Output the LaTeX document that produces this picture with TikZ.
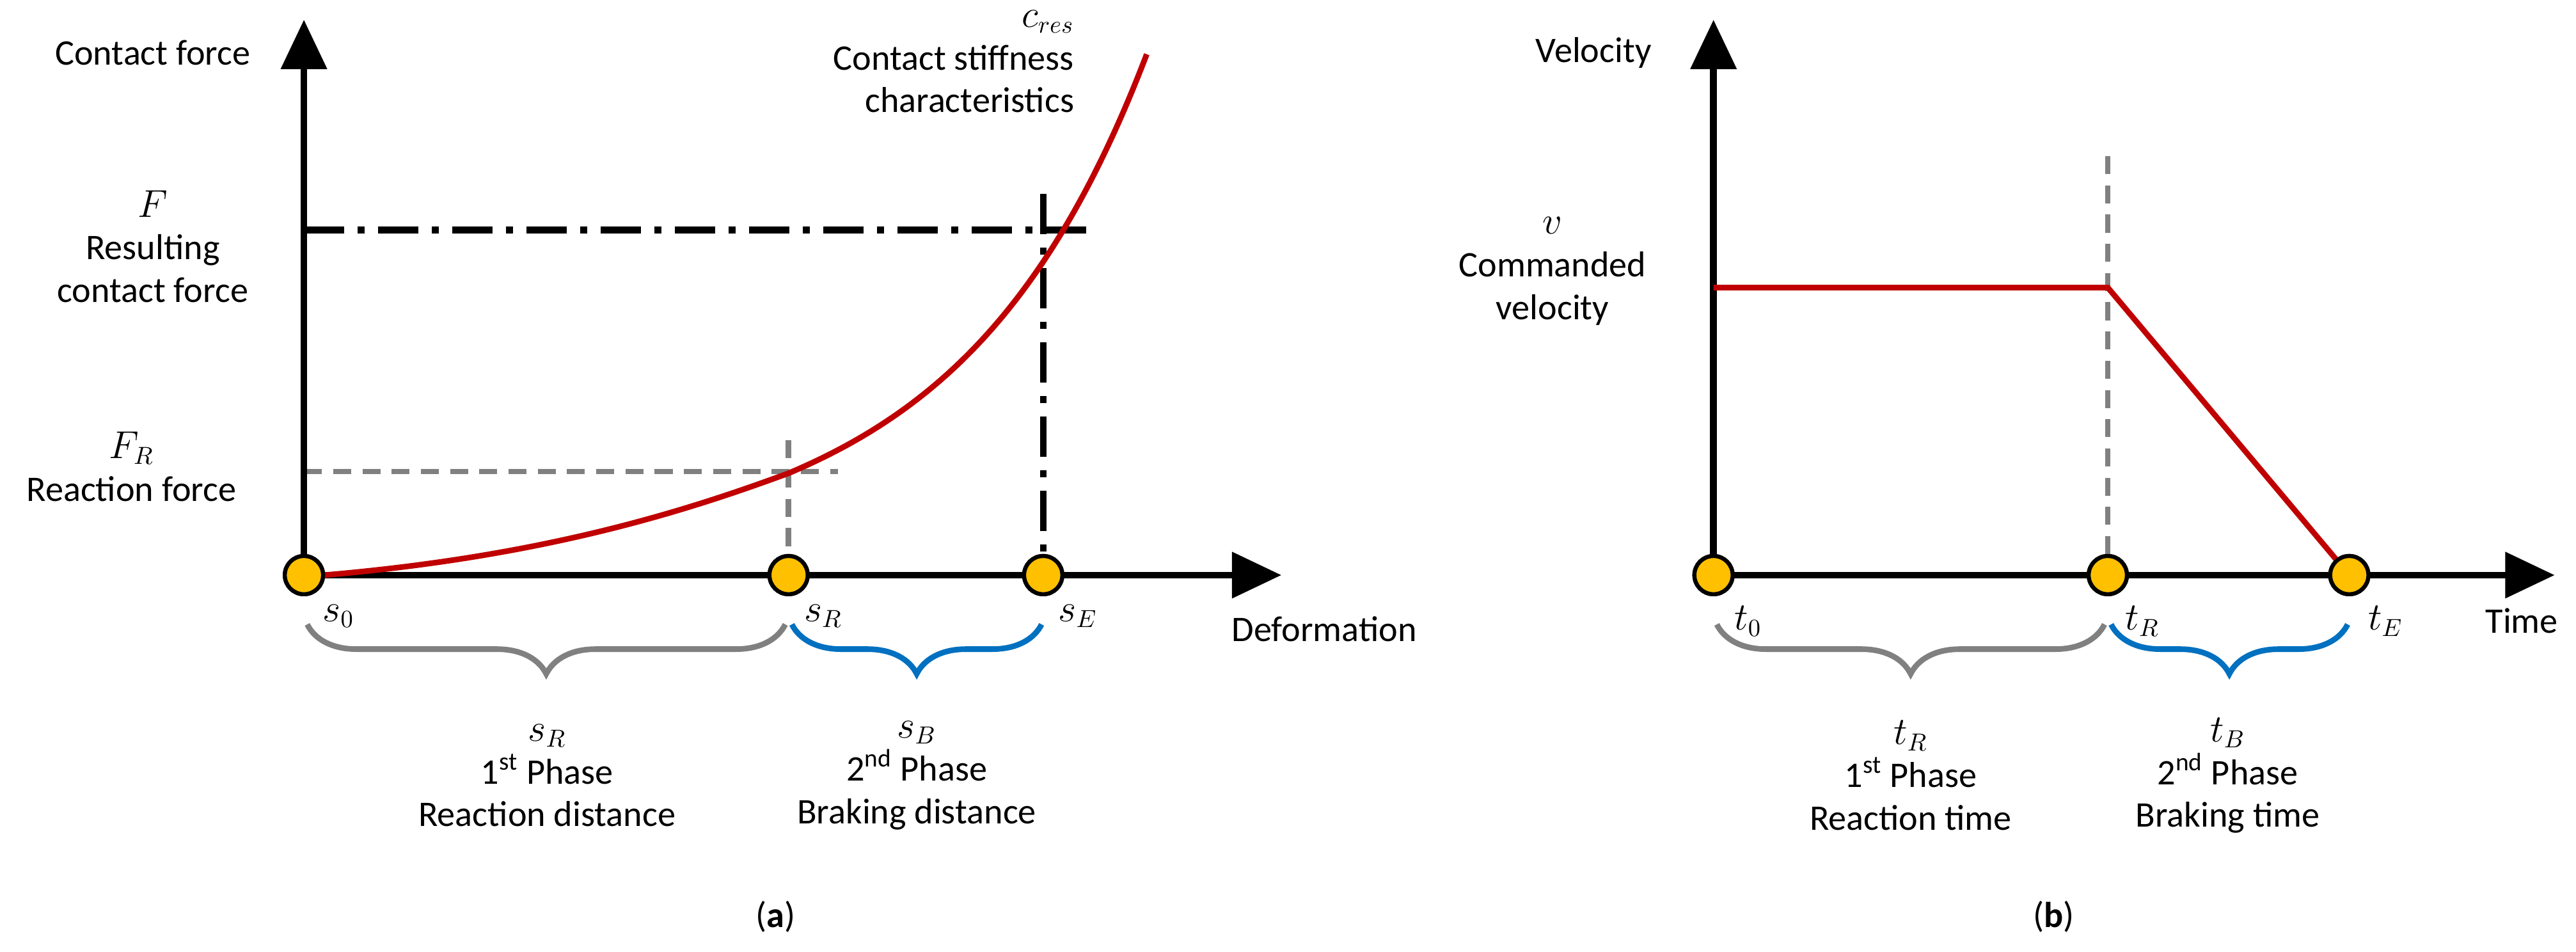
\documentclass[tikz,border=0pt]{standalone}
\usepackage{fontspec}
\setmainfont{Carlito}
\usetikzlibrary{arrows.meta, positioning, calc, decorations.pathreplacing}
\definecolor{dred}{HTML}{C00000}
\definecolor{dblue}{HTML}{0070C0}
\definecolor{dgray}{HTML}{808080}
\definecolor{dorange}{HTML}{FFC000}
\begin{document}
\begin{tikzpicture}[x=0.02568cm,y=-0.02568cm, font=\fontsize{16}{19}\selectfont,
	axis/.style={line width=3pt,-{Triangle[length=22pt,width=20pt]}},
	pt/.style={circle,draw=black,line width=1.8pt,fill=dorange,minimum size=17pt,inner sep=0pt},
	brace/.style={decorate,decoration={brace,mirror,amplitude=22pt,raise=0pt},line width=2.5pt},
	gdash/.style={dgray,line width=2.5pt,dash pattern=on 8pt off 5pt},
	kdash/.style={line width=3pt,dash pattern=on 18pt off 6pt on 3pt off 6pt},
	lbl/.style={align=center,inner sep=1pt}]
	\useasboundingbox (0,0) rectangle (1568,579);
	% (a) contact force over deformation
	\coordinate (Otop) at (185,12);
	\coordinate (Xend) at (780,350);
	\node[pt] (s0) at (185,350) {};
	\node[pt] (sR) at (480,350) {};
	\node[pt] (sE) at (635,350) {};
	\draw[gdash] (185,287) -- (510,287);
	\draw[gdash] (480,268) -- (sR);
	\draw[kdash] (185,140) -- (662,140);
	\draw[kdash] (635,118) -- (sE);
	\draw[axis] (s0.center) -- (Otop);
	\draw[axis] (s0.center) -- (Xend);
	\draw[dred,line width=2.5pt] (185,351) .. controls (330,340) and (420,310) .. (480,288)
		.. controls (570,250) and (640,185) .. (698,33);
	\node[pt] at (s0) {};
	\node[pt] at (sR) {};
	\node[pt] at (sE) {};
	\node[lbl] (fl) at (93,32) {Contact force};
	\node[lbl,align=right,anchor=north east,inner sep=0pt] (cres) at (654,6) {$c_{res}$\\Contact stiffness\\characteristics};
	\node[lbl] (Fl) at (93,150) {$F$\\Resulting\\contact force};
	\node[lbl] (FRl) at (80,284) {$F_R$\\Reaction force};
	\node (s0l) at (206,375) {$s_0$};
	\node (sRl) at (501,375) {$s_R$};
	\node (sEl) at (656,375) {$s_E$};
	\node (defl) at (806,383) {Deformation};
	\draw[brace,dgray] (187,380) -- (478,380);
	\draw[brace,dblue] (482,380) -- (634,380);
	\node[lbl] (ph1) at (333,472) {$s_R$\\1\textsuperscript{st} Phase\\Reaction distance};
	\node[lbl] (ph2) at (558,472) {$s_B$\\2\textsuperscript{nd} Phase\\Braking distance};
	\node (cap1) at (472,558) {(\textbf{a})};
	% (b) velocity over time
	\coordinate (Vtop) at (1043,12);
	\coordinate (Tend) at (1555,350);
	\node[pt] (t0) at (1043,350) {};
	\node[pt] (tR) at (1283,350) {};
	\node[pt] (tE) at (1430,350) {};
	\coordinate (vk) at (1283,175);
	\draw[gdash] (1283,95) -- (tR);
	\draw[axis] (t0.center) -- (Vtop);
	\draw[axis] (t0.center) -- (Tend);
	\draw[dred,line width=2.5pt] (1043,175) -- (vk) -- (tE.center);
	\node[pt] at (t0) {};
	\node[pt] at (tR) {};
	\node[pt] at (tE) {};
	\node[lbl] (vl) at (970,32) {Velocity};
	\node[lbl] (cvl) at (945,165) {$v$\\Commanded\\velocity};
	\node (t0l) at (1064,378) {$t_0$};
	\node (tRl) at (1304,378) {$t_R$};
	\node (tEl) at (1452,378) {$t_E$};
	\node (timel) at (1535,378) {Time};
	\draw[brace,dgray] (1045,380) -- (1281,380);
	\draw[brace,dblue] (1285,380) -- (1429,380);
	\node[lbl] (ph3) at (1163,472) {$t_R$\\1\textsuperscript{st} Phase\\Reaction time};
	\node[lbl] (ph4) at (1356,472) {$t_B$\\2\textsuperscript{nd} Phase\\Braking time};
	\node (cap2) at (1250,558) {(\textbf{b})};
\end{tikzpicture}
\end{document}
